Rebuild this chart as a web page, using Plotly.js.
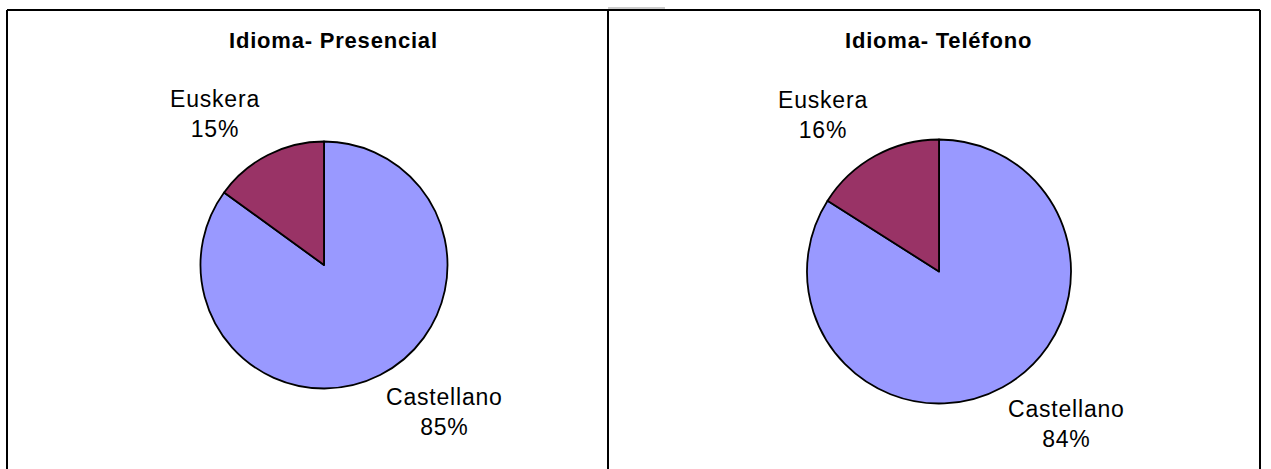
<!DOCTYPE html>
<html><head><meta charset="utf-8">
<script src="https://cdn.plot.ly/plotly-3.0.1.min.js"></script>
<style>
html,body{margin:0;padding:0;background:#fff;}
#chart{width:1271px;height:469px;}
.annotation-text{letter-spacing:0.8px;}
</style></head><body><div id="chart"></div>
<script>
// ---- data ----
const categories = ['Castellano', 'Euskera'];
const presencialValues = [85, 15];
const telefonoValues = [84, 16];
const chartTitles = ['Idioma- Presencial', 'Idioma- Teléfono'];
const sliceColors = ['#9999FF', '#993366'];

// ---- layout helpers ----
const W = 1271, H = 469;
const panels = [
  {values: presencialValues, title: chartTitles[0], cx: 324, cy: 265, r: 123.5, titleX: 334},
  {values: telefonoValues, title: chartTitles[1], cx: 939, cy: 271.5, r: 132, titleX: 938}
];
const px = x => x / W;
const py = y => 1 - y / H;

const traces = [];
const annotations = [];
panels.forEach(p => {
  traces.push({
    type: 'pie',
    labels: categories,
    values: p.values,
    sort: false,
    direction: 'clockwise',
    rotation: 0,
    textinfo: 'none',
    hoverinfo: 'none',
    showlegend: false,
    marker: {colors: sliceColors, line: {color: '#000', width: 1.8}},
    domain: {x: [px(p.cx - p.r), px(p.cx + p.r)], y: [py(p.cy + p.r), py(p.cy - p.r)]}
  });
  annotations.push({
    text: p.title, showarrow: false, xref: 'paper', yref: 'paper',
    x: px(p.titleX), y: py(40), xanchor: 'center', yanchor: 'middle',
    font: {family: 'Liberation Sans, Arial, sans-serif', size: 22, color: '#000', weight: 'bold'}
  });
  const total = p.values.reduce((a, b) => a + b, 0);
  let cum = 0;
  p.values.forEach((v, i) => {
    const mid = (cum + v / 2) / total;
    cum += v;
    const th = mid * 2 * Math.PI;          // clockwise from 12 o'clock
    const sx = Math.sin(th), sy = -Math.cos(th);
    const top = sy < 0;
    const R = p.r + (top ? 12 : 8);
    const x = p.cx + R * sx, y = p.cy + R * sy;
    annotations.push({
      text: categories[i] + '<br>' + Math.round(v / total * 100) + '%',
      showarrow: false, xref: 'paper', yref: 'paper',
      x: px(x), y: py(y),
      xanchor: sx < 0 ? 'right' : 'left', yanchor: top ? 'bottom' : 'top',
      align: 'center',
      font: {family: 'Liberation Sans, Arial, sans-serif', size: 23, color: '#000'}
    });
  });
});

const lineStyle = {color: '#000', width: 2};
const shapes = [
  {type: 'line', xref: 'paper', yref: 'paper', x0: px(7), x1: px(1260), y0: py(10), y1: py(10), line: lineStyle},
  {type: 'line', xref: 'paper', yref: 'paper', x0: px(7), x1: px(7), y0: py(10), y1: py(469), line: lineStyle},
  {type: 'line', xref: 'paper', yref: 'paper', x0: px(608), x1: px(608), y0: py(10), y1: py(469), line: lineStyle},
  {type: 'line', xref: 'paper', yref: 'paper', x0: px(1260), x1: px(1260), y0: py(10), y1: py(469), line: lineStyle},
  {type: 'line', xref: 'paper', yref: 'paper', x0: px(608), x1: px(665), y0: py(8), y1: py(8), line: {color: '#999', width: 1}}
];

Plotly.newPlot('chart', traces, {
  width: W, height: H, autosize: false,
  margin: {l: 0, r: 0, t: 0, b: 0},
  paper_bgcolor: '#fff', plot_bgcolor: '#fff',
  annotations: annotations, shapes: shapes
}, {staticPlot: true, displayModeBar: false});
</script></body></html>
